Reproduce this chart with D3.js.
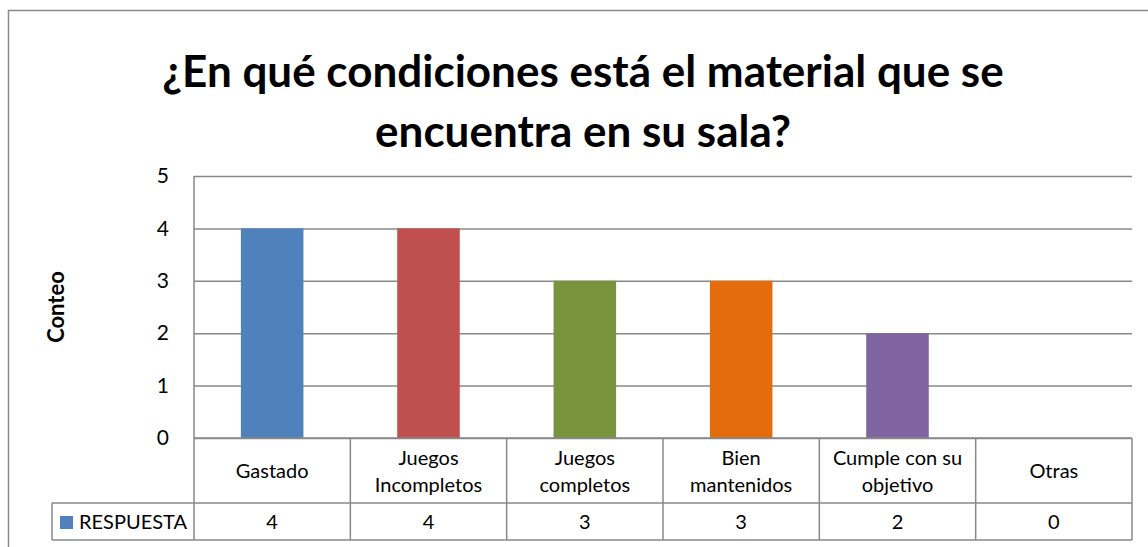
<!DOCTYPE html>
<html>
<head>
<meta charset="utf-8">
<script src="https://cdn.jsdelivr.net/npm/d3@7"></script>
<style>
  body { margin: 0; background: #fff; }
  text { font-family: Lato, "Open Sans", sans-serif; fill: #000; }
</style>
</head>
<body>
<svg width="1148" height="547"></svg>
<script>
// data
var categories = ["Gastado", "Juegos Incompletos", "Juegos completos", "Bien mantenidos", "Cumple con su objetivo", "Otras"];
var categoryLines = [["Gastado"], ["Juegos", "Incompletos"], ["Juegos", "completos"], ["Bien", "mantenidos"], ["Cumple con su", "objetivo"], ["Otras"]];
var values = [4, 4, 3, 3, 2, 0];
var barColors = ["#4F81BD", "#C0504D", "#77933C", "#E46C0A", "#8064A2", "#4BACC6"];
var yTicks = [0, 1, 2, 3, 4, 5];
var seriesName = "RESPUESTA";
var titleLines = ["¿En qué condiciones está el material que se", "encuentra en su sala?"];

var svg = d3.select('svg');
var gridColor = "#898989";

// outer chart frame (runs off the right and bottom)
svg.append('rect')
    .attr('x', 8.5).attr('y', 10.5)
    .attr('width', 1200).attr('height', 600)
    .attr('fill', 'none')
    .attr('stroke', gridColor)
    .attr('stroke-width', 1.5);

// title
svg.selectAll('.title')
    .data(titleLines)
    .enter()
    .append('text')
    .attr('class', 'title')
    .attr('x', 583)
    .attr('y', function(d, i){ return 87 + i * 60; })
    .attr('text-anchor', 'middle')
    .style('font-size', '44px')
    .style('font-weight', 'bold')
    .text(function(d){ return d; });

// plot + table geometry (named to avoid window.top)
var plotLeft = 194, plotRight = 1132, plotTop = 176, plotBottom = 438;
var rowSplit = 503, tableBottom = 540, legendLeft = 52;

//scales
var scaleY = d3.scaleLinear().domain([0, 5]).range([plotBottom, plotTop]);
var scaleX = d3.scaleBand().domain(categories).range([plotLeft, plotRight]).paddingInner(0.6).paddingOuter(0.3);
var colX = d3.scaleBand().domain(categories).range([plotLeft, plotRight]);

// gridlines
svg.append('g')
    .attr('transform', 'translate(' + plotLeft + ',0)')
    .call(d3.axisLeft(scaleY).tickValues(yTicks).tickSize(-(plotRight - plotLeft)).tickFormat(''))
    .call(function(g){ g.select('.domain').remove(); })
    .selectAll('line')
    .attr('stroke', gridColor)
    .attr('stroke-width', 1.5);

// tick labels
svg.append('g')
    .attr('transform', 'translate(169,0)')
    .call(d3.axisLeft(scaleY).tickValues(yTicks).tickSize(0).tickPadding(0).tickFormat(d3.format('d')))
    .call(function(g){ g.select('.domain').remove(); })
    .selectAll('text')
    .style('font-size', '21px')
    .style('font-family', 'Lato, "Open Sans", sans-serif');

// axis title
svg.append('text')
    .text('Conteo')
    .attr('transform', 'translate(64,307)rotate(270)')
    .style('text-anchor', 'middle')
    .style('font-size', '22px')
    .style('font-weight', 'bold');

// bars
svg.selectAll('.bar')
    .data(values)
    .enter()
    .append('rect')
    .attr('class', 'bar')
    .attr('x', function(d, i){ return scaleX(categories[i]); })
    .attr('width', scaleX.bandwidth())
    .attr('y', function(d){ return scaleY(d); })
    .attr('height', function(d){ return scaleY(0) - scaleY(d); })
    .attr('fill', function(d, i){ return barColors[i]; });

// data table lines
var table = svg.append('g').attr('stroke', gridColor).attr('stroke-width', 1.5);
table.append('line').attr('x1', plotLeft).attr('x2', plotRight).attr('y1', plotBottom).attr('y2', plotBottom);
table.append('line').attr('x1', legendLeft).attr('x2', plotRight).attr('y1', rowSplit).attr('y2', rowSplit);
table.append('line').attr('x1', legendLeft).attr('x2', plotRight).attr('y1', tableBottom).attr('y2', tableBottom);
table.append('line').attr('x1', legendLeft).attr('x2', legendLeft).attr('y1', rowSplit).attr('y2', tableBottom);
table.append('line').attr('x1', plotLeft).attr('x2', plotLeft).attr('y1', plotTop).attr('y2', tableBottom);
table.selectAll('.col')
    .data(categories)
    .enter()
    .append('line')
    .attr('x1', function(d){ return colX(d) + colX.bandwidth(); })
    .attr('x2', function(d){ return colX(d) + colX.bandwidth(); })
    .attr('y1', plotBottom)
    .attr('y2', tableBottom);

// category labels
svg.selectAll('.cat')
    .data(categoryLines)
    .enter()
    .append('text')
    .attr('class', 'cat')
    .attr('text-anchor', 'middle')
    .style('font-size', '20px')
    .each(function(lines, i){
        var t = d3.select(this);
        var cx = colX(categories[i]) + colX.bandwidth() / 2;
        var y0 = lines.length == 1 ? 478 : 465;
        lines.forEach(function(l, j){
            t.append('tspan').attr('x', cx).attr('y', y0 + j * 27).text(l);
        });
    });

// values row
svg.selectAll('.val')
    .data(values)
    .enter()
    .append('text')
    .attr('class', 'val')
    .attr('text-anchor', 'middle')
    .attr('x', function(d, i){ return colX(categories[i]) + colX.bandwidth() / 2; })
    .attr('y', 529)
    .style('font-size', '20px')
    .text(function(d){ return d; });

// legend key
svg.append('rect')
    .attr('x', 60).attr('y', 516)
    .attr('width', 13).attr('height', 13)
    .attr('fill', barColors[0]);
svg.append('text')
    .text(seriesName)
    .attr('x', 79).attr('y', 529)
    .style('font-size', '20px');
</script>
</body>
</html>
